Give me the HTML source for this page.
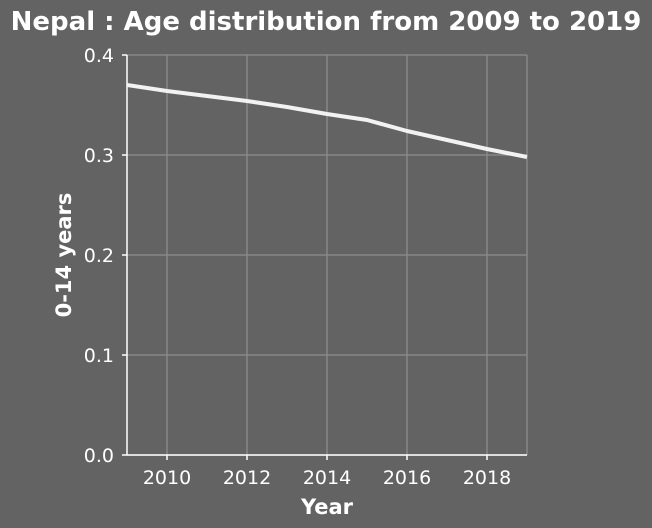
<!DOCTYPE html>
<html><head><meta charset="utf-8"><style>
body{margin:0;background:#636363;}
svg{display:block;font-family:"DejaVu Sans","Liberation Sans",sans-serif;}
</style></head><body>
<svg id="chart" width="652" height="528">
<rect width="652" height="528" fill="#636363"/>
<text x="326" y="30" text-anchor="middle" fill="#fff" font-size="26" font-weight="bold">Nepal : Age distribution from 2009 to 2019</text>
<g id="grid"></g>
<g id="axes"></g>
<text x="327" y="514" text-anchor="middle" fill="#fff" font-size="21" font-weight="bold">Year</text>
<text transform="translate(71,255) rotate(-90)" text-anchor="middle" fill="#fff" font-size="21" font-weight="bold">0-14 years</text>
</svg>
<script>
const years=[2009,2010,2011,2012,2013,2014,2015,2016,2017,2018,2019];
const values=[0.370,0.364,0.359,0.354,0.348,0.341,0.335,0.324,0.315,0.306,0.298];
const xTicks=[2010,2012,2014,2016,2018];
const yTicks=[0.0,0.1,0.2,0.3,0.4];
const yTickLabels=["0.0","0.1","0.2","0.3","0.4"];
const X0=127,X1=527,Y0=455,Y1=55;
const xs=v=>X0+(v-2009)/(2019-2009)*(X1-X0);
const ys=v=>Y0-(v-0)/(0.4)*(Y0-Y1);
const NS="http://www.w3.org/2000/svg";
const svg=document.getElementById('chart');
const grid=document.getElementById('grid');
const axes=document.getElementById('axes');
function mk(t,a,p){const e=document.createElementNS(NS,t);for(const k in a)e.setAttribute(k,a[k]);p.appendChild(e);return e;}
yTicks.forEach((v,i)=>{
  const l=mk('line',{x1:X0,x2:X1,y1:ys(v),y2:ys(v),stroke:'#888','stroke-width':1.5},grid);
  
  
  const tk=mk('line',{x1:X0-5,x2:X0,y1:ys(v),y2:ys(v),stroke:'#fff','stroke-width':1.5},axes);
  
  
  const t=mk('text',{x:X0-13,y:ys(v)+7,'text-anchor':'end',fill:'#fff','font-size':19},axes);
  t.textContent=yTickLabels[i];
  
  
});
xTicks.forEach(v=>{
  const l=mk('line',{x1:xs(v),x2:xs(v),y1:Y1,y2:Y0,stroke:'#888','stroke-width':1.5},grid);
  
  
  const tk=mk('line',{x1:xs(v),x2:xs(v),y1:Y0,y2:Y0+5,stroke:'#fff','stroke-width':1.5},axes);
  
  
  const t=mk('text',{x:xs(v),y:Y0+29,'text-anchor':'middle',fill:'#fff','font-size':19},axes);
  t.textContent=v;
  
  
});
const rb=mk('line',{x1:X1,x2:X1,y1:Y1,y2:Y0,stroke:'#888','stroke-width':1.5},grid);


const ya=mk('line',{x1:X0,x2:X0,y1:Y1,y2:Y0,stroke:'#fff','stroke-width':1.5},axes);


const xa=mk('line',{x1:X0,x2:X1,y1:Y0,y2:Y0,stroke:'#fff','stroke-width':1.5},axes);


const pl=mk('polyline',{points:years.map((y,i)=>xs(y)+','+ys(values[i])).join(' '),fill:'none',stroke:'#f2f2f2','stroke-width':4,'stroke-linejoin':'round'},svg);


</script>
</body></html>
